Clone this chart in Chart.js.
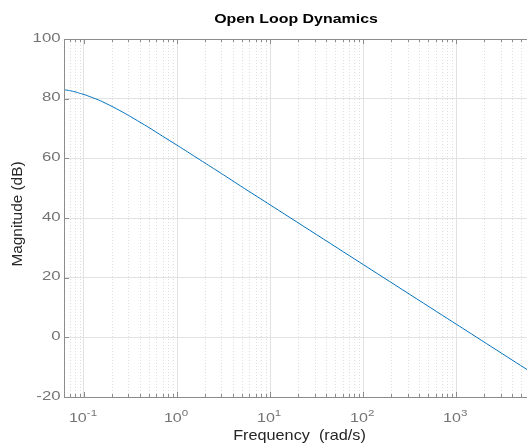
<!DOCTYPE html>
<html>
<head>
<meta charset="utf-8">
<title>Open Loop Dynamics</title>
<script src="https://cdn.jsdelivr.net/npm/chart.js@4.4.1/dist/chart.umd.min.js"></script>
<style>
    body { margin: 0; background: #fff; }
    #wrap { width: 527px; height: 446px; }
</style>
</head>
<body>
<div id="wrap"><canvas id="bode" width="527" height="446"></canvas></div>
<script>
// values
const freq = [0.061, 0.07, 0.08, 0.09, 0.1, 0.12, 0.15, 0.2, 0.25, 0.3, 0.4, 0.5, 0.7, 1, 1.5, 2, 3, 5, 10, 100, 1000, 5750];
const magDb = [83.0, 82.7, 82.3, 81.8, 81.4, 80.5, 79.3, 77.4, 75.8, 74.4, 72.1, 70.3, 67.4, 64.4, 60.9, 58.4, 54.9, 50.4, 44.4, 24.4, 4.4, -10.8];

const xMin = 0.061;
const xMax = 5750;
const majorTicks = [0.1, 1, 10, 100, 1000];
const majorExps = ['-1', '0', '1', '2', '3'];
const minorMult = [2, 3, 4, 5, 6, 7, 8, 9];
const yTicks = [-20, 0, 20, 40, 60, 80, 100];

const FONT = "'Liberation Sans', Arial, Helvetica, sans-serif";
const AXIS_GRAY = '#8c8c8c';
const LABEL_GRAY = '#747474';

// all minor tick positions inside the range
const minorTicks = [];
for (let d = 0.01; d <= 10000; d *= 10) {
    minorMult.forEach(m => {
        const v = +(m * d).toPrecision(3);
        if (v >= xMin && v <= xMax) minorTicks.push(v);
    });
}

// text with a horizontal stretch, the reference glyphs are wide
function wideText(ctx, str, x, y, font, sx, align) {
    ctx.save();
    ctx.font = font;
    const w = ctx.measureText(str).width * sx;
    let left = x;
    if (align === 'center') left = x - w / 2;
    if (align === 'right') left = x - w;
    ctx.translate(left, y);
    ctx.scale(sx, 1);
    ctx.textAlign = 'left';
    ctx.fillText(str, 0, 0);
    ctx.restore();
    return w;
}

const bodeDecor = {
    id: 'bodeDecor',
    beforeDatasetsDraw(chart) {
        const { ctx, chartArea: a, scales: { x } } = chart;
        // dotted minor grid
        ctx.save();
        ctx.strokeStyle = '#dedede';
        ctx.lineWidth = 1;
        ctx.setLineDash([1, 2]);
        minorTicks.forEach(v => {
            const px = Math.round(x.getPixelForValue(v)) + 0.5;
            ctx.beginPath();
            ctx.moveTo(px, a.top);
            ctx.lineTo(px, a.bottom);
            ctx.stroke();
        });
        ctx.restore();
    },
    afterDraw(chart) {
        const { ctx, chartArea: a, scales: { x, y } } = chart;
        ctx.save();
        ctx.strokeStyle = AXIS_GRAY;
        ctx.lineWidth = 1;
        // box: left, bottom, top (right side runs off the picture)
        const L = Math.round(a.left) + 0.5, T = Math.round(a.top) + 0.5, B = Math.round(a.bottom) + 0.5;
        ctx.beginPath();
        ctx.moveTo(a.right, T);
        ctx.lineTo(L, T);
        ctx.lineTo(L, B);
        ctx.lineTo(a.right, B);
        ctx.stroke();

        // inward ticks, bottom and top
        const tick = (px, len) => {
            ctx.beginPath();
            ctx.moveTo(px, a.bottom);
            ctx.lineTo(px, a.bottom - len);
            ctx.moveTo(px, a.top);
            ctx.lineTo(px, a.top + len);
            ctx.stroke();
        };
        majorTicks.forEach(v => tick(Math.round(x.getPixelForValue(v)) + 0.5, 5));
        minorTicks.forEach(v => tick(Math.round(x.getPixelForValue(v)) + 0.5, 3));
        yTicks.forEach(v => {
            const py = Math.round(y.getPixelForValue(v)) + 0.5;
            ctx.beginPath();
            ctx.moveTo(a.left, py);
            ctx.lineTo(a.left + 5, py);
            ctx.stroke();
        });

        // y tick labels
        ctx.fillStyle = LABEL_GRAY;
        ctx.textBaseline = 'middle';
        yTicks.forEach(v => {
            wideText(ctx, String(v), a.left - 3.5, y.getPixelForValue(v) - 1, '13.5px ' + FONT, 1.24, 'right');
        });

        // x tick labels 10^n
        ctx.textBaseline = 'alphabetic';
        majorTicks.forEach((v, i) => {
            const px = x.getPixelForValue(v);
            ctx.font = '13.2px ' + FONT;
            const wBase = ctx.measureText('10').width * 1.22;
            ctx.font = '9.5px ' + FONT;
            const wExp = ctx.measureText(majorExps[i]).width * 1.22;
            const left = px - 1 - (wBase + wExp) / 2;
            wideText(ctx, '10', left, a.bottom + 25, '13.2px ' + FONT, 1.22, 'left');
            wideText(ctx, majorExps[i], left + wBase, a.bottom + 18.5, '9.5px ' + FONT, 1.22, 'left');
        });

        // title and axis labels
        const cx = (a.left + a.right) / 2;
        ctx.textBaseline = 'middle';
        ctx.fillStyle = '#000';
        wideText(ctx, 'Open Loop Dynamics', cx + 0.5, 19.5, 'bold 13.5px ' + FONT, 1.18, 'center');

        ctx.fillStyle = '#262626';
        wideText(ctx, 'Frequency  (rad/s)', cx + 4, a.bottom + 39, '14.5px ' + FONT, 1.12, 'center');

        ctx.save();
        ctx.translate(17.5, 214);
        ctx.rotate(-Math.PI / 2);
        wideText(ctx, 'Magnitude (dB)', 0, 0, '14.5px ' + FONT, 1.06, 'center');
        ctx.restore();
        ctx.restore();
    }
};

new Chart(document.getElementById('bode'), {
    type: 'line',
    data: {
        datasets: [{
            label: 'Magnitude',
            data: freq.map((f, i) => ({ x: f, y: magDb[i] })),
            borderColor: '#0072BD',
            borderWidth: 1,
            pointRadius: 0,
            fill: false,
            tension: 0.2,
            clip: 0
        }]
    },
    options: {
        responsive: false,
        animation: false,
        layout: { padding: { top: 39, right: 0, left: 0, bottom: 0 } },
        plugins: {
            legend: { display: false },
            tooltip: { enabled: false },
            title: { display: false }
        },
        scales: {
            x: {
                type: 'logarithmic',
                min: xMin,
                max: xMax,
                afterBuildTicks: scale => {
                    scale.ticks = majorTicks.map(v => ({ value: v }));
                },
                afterFit: scale => { scale.height = 49; },
                ticks: { display: false },
                grid: { color: '#e2e2e2', drawTicks: false },
                border: { display: false }
            },
            y: {
                min: -20,
                max: 100,
                afterBuildTicks: scale => {
                    scale.ticks = yTicks.map(v => ({ value: v }));
                },
                afterFit: scale => { scale.width = 64; },
                ticks: { display: false },
                grid: { color: '#e2e2e2', drawTicks: false },
                border: { display: false }
            }
        }
    },
    plugins: [bodeDecor]
});
</script>
</body>
</html>
